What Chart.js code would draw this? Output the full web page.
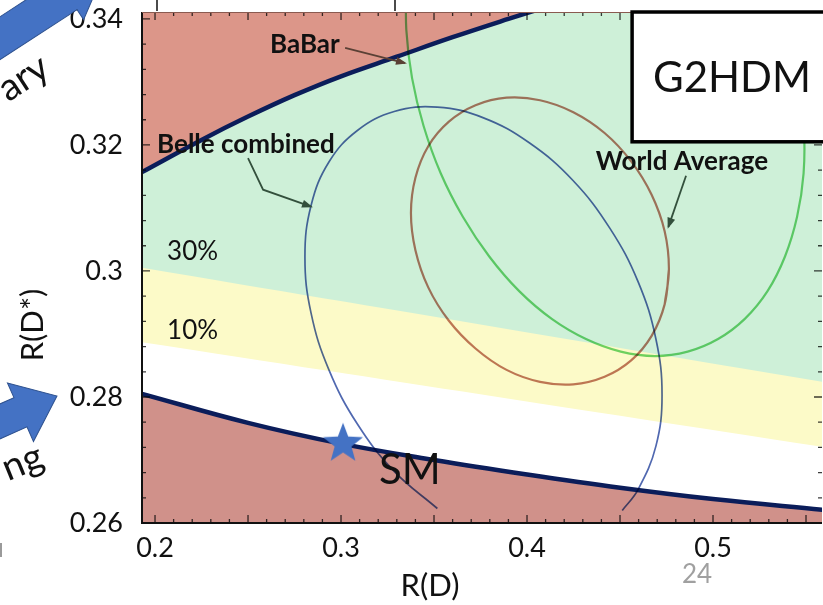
<!DOCTYPE html>
<html>
<head>
<meta charset="utf-8">
<script src="https://cdn.jsdelivr.net/npm/chart.js@4.4.1/dist/chart.umd.min.js"></script>
<style>
  html, body { margin: 0; padding: 0; background: #fff; }
  canvas { display: block; }
</style>
</head>
<body>
<canvas id="chart" width="823" height="605"></canvas>
<script>
// ---- axes ----
const xMin = 0.193, xMax = 0.5586;
const yMin = 0.26, yMax = 0.3411;
const xTickValues = [0.2, 0.3, 0.4, 0.5];
const xTickLabels = ['0.2', '0.3', '0.4', '0.5'];
const yTickValues = [0.26, 0.28, 0.30, 0.32, 0.34];
const yTickLabels = ['0.26', '0.28', '0.3', '0.32', '0.34'];

// ---- G2HDM allowed region boundaries (thick navy curves) ----
const upperBoundX = [0.193, 0.225, 0.25, 0.275, 0.30, 0.33, 0.36, 0.39, 0.42];
const upperBoundY = [0.3157, 0.3208, 0.3245, 0.3279, 0.3309, 0.3340, 0.3371, 0.3400, 0.3428];
const lowerBoundX = [0.193, 0.25, 0.30, 0.35, 0.40, 0.45, 0.50, 0.559];
const lowerBoundY = [0.2805, 0.2759, 0.2726, 0.2700, 0.2677, 0.2656, 0.2638, 0.2621];

// ---- deviation bands (lower edges) ----
const band30X = [0.193, 0.5586];
const band30Y = [0.3005, 0.2824];
const band10X = [0.193, 0.5586];
const band10Y = [0.2887, 0.2721];

// ---- 1 sigma contours ----
const belleX = [0.3518, 0.3286, 0.3088, 0.2935, 0.2839, 0.2806, 0.2839, 0.2935, 0.3088, 0.3286, 0.3518,
  0.3766, 0.4014, 0.4246, 0.4445, 0.4597, 0.4693, 0.4726, 0.4693, 0.4597, 0.4512];
const belleY = [0.2623, 0.2682, 0.2757, 0.2843, 0.2933, 0.3022, 0.3104, 0.3173, 0.3223, 0.3253, 0.3260,
  0.3243, 0.3203, 0.3144, 0.3068, 0.2983, 0.2892, 0.2803, 0.2722, 0.2653, 0.2620];
const worldX = [0.4763, 0.4740, 0.4670, 0.4560, 0.4417, 0.4249, 0.4070, 0.3890, 0.3723, 0.3580, 0.3469,
  0.3400, 0.3376, 0.3400, 0.3469, 0.3580, 0.3723, 0.3890, 0.4070, 0.4249, 0.4417, 0.4560, 0.4670, 0.4740];
const worldY = [0.3003, 0.2947, 0.2897, 0.2858, 0.2832, 0.2820, 0.2824, 0.2843, 0.2877, 0.2921, 0.2974,
  0.3033, 0.3092, 0.3148, 0.3198, 0.3237, 0.3263, 0.3275, 0.3271, 0.3252, 0.3219, 0.3174, 0.3121, 0.3063];
const babarX = [0.3352, 0.3351, 0.3382, 0.3444, 0.3536, 0.3655, 0.3797, 0.3958, 0.4133, 0.4317, 0.4504,
  0.4688, 0.4864, 0.5027, 0.5171, 0.5293, 0.5387, 0.5452, 0.5487, 0.5488, 0.5457, 0.5395];
const babarY = [0.3457, 0.3383, 0.3306, 0.3230, 0.3155, 0.3086, 0.3023, 0.2968, 0.2924, 0.2892, 0.2872,
  0.2865, 0.2872, 0.2892, 0.2924, 0.2968, 0.3023, 0.3086, 0.3155, 0.3230, 0.3306, 0.3383];

// ---- Standard Model prediction ----
const smX = [0.3011];
const smY = [0.2729];

const zip = (xs, ys) => xs.map((v, i) => ({ x: v, y: ys[i] }));
// closed contour: run past the start so the spline joins smoothly
const loop = (xs, ys) => zip(xs.concat(xs.slice(0, 2)), ys.concat(ys.slice(0, 2)));

function starImage(R, color) {
  const size = Math.ceil(2 * R) + 2;
  const c = document.createElement('canvas');
  c.width = c.height = size;
  const g = c.getContext('2d');
  const cx = size / 2, cy = size / 2 + 0.095 * R;
  g.fillStyle = color;
  g.beginPath();
  for (let i = 0; i < 10; i++) {
    const a = -Math.PI / 2 + i * Math.PI / 5;
    const r = i % 2 ? R * 0.42 : R;
    g.lineTo(cx + r * Math.cos(a), cy + r * Math.sin(a));
  }
  g.closePath();
  g.fill();
  return c;
}

// contour lines are multiplied onto the coloured regions, like in the original figure
const multiplyPlugin = {
  id: 'multiplyLines',
  beforeDatasetDraw(chart, args) {
    if (chart.data.datasets[args.index].multiply) {
      chart.ctx.save();
      chart.ctx.globalCompositeOperation = 'multiply';
    }
  },
  afterDatasetDraw(chart, args) {
    if (chart.data.datasets[args.index].multiply) chart.ctx.restore();
  }
};

function leader(ctx, pts, color) {
  ctx.strokeStyle = color;
  ctx.fillStyle = color;
  ctx.lineWidth = 1.8;
  ctx.beginPath();
  pts.forEach((p, i) => (i ? ctx.lineTo(p[0], p[1]) : ctx.moveTo(p[0], p[1])));
  ctx.stroke();
  const [a, b] = pts.slice(-2);
  const ang = Math.atan2(b[1] - a[1], b[0] - a[0]);
  ctx.save();
  ctx.translate(b[0], b[1]);
  ctx.rotate(ang);
  ctx.beginPath();
  ctx.moveTo(2, 0);
  ctx.lineTo(-9, -4);
  ctx.lineTo(-9, 4);
  ctx.closePath();
  ctx.fill();
  ctx.restore();
}

function blockArrow(ctx, tipX, tipY, angDeg, headLen, headHalf, shaftHalf, tail) {
  ctx.save();
  ctx.translate(tipX, tipY);
  ctx.rotate(angDeg * Math.PI / 180);
  ctx.beginPath();
  ctx.moveTo(0, 0);
  ctx.lineTo(-headLen, headHalf);
  ctx.lineTo(-headLen, shaftHalf);
  ctx.lineTo(-tail, shaftHalf);
  ctx.lineTo(-tail, -shaftHalf);
  ctx.lineTo(-headLen, -shaftHalf);
  ctx.lineTo(-headLen, -headHalf);
  ctx.closePath();
  ctx.fillStyle = '#4472c4';
  ctx.fill();
  ctx.strokeStyle = '#2f528f';
  ctx.lineWidth = 1;
  ctx.stroke();
  ctx.restore();
}

const annotationPlugin = {
  id: 'figureAnnotations',
  afterDatasetsDraw(chart) {
    const { ctx, chartArea: area, scales: { x, y } } = chart;
    const P = (vx, vy) => [x.getPixelForValue(vx), y.getPixelForValue(vy)];
    ctx.save();

    // inward tick marks on all four sides
    ctx.globalCompositeOperation = 'multiply';
    ctx.strokeStyle = '#3c3c3c';
    ctx.lineWidth = 1.3;
    ctx.beginPath();
    for (let i = 20; i <= 55; i++) {
      const px = x.getPixelForValue(i / 100);
      const len = i % 5 === 0 ? 8 : 4;
      ctx.moveTo(px, area.bottom); ctx.lineTo(px, area.bottom - len);
      ctx.moveTo(px, area.top); ctx.lineTo(px, area.top + len);
    }
    for (let i = 0; i <= 20; i++) {
      const py = y.getPixelForValue(0.26 + i * 0.004);
      const len = i % 5 === 0 ? 8 : 4;
      ctx.moveTo(area.left, py); ctx.lineTo(area.left + len, py);
      ctx.moveTo(area.right, py); ctx.lineTo(area.right - len, py);
    }
    ctx.stroke();
    ctx.globalCompositeOperation = 'source-over';

    // frame
    ctx.strokeStyle = '#111';
    ctx.lineWidth = 2;
    ctx.beginPath();
    ctx.moveTo(area.left, area.top);
    ctx.lineTo(area.left, area.bottom);
    ctx.lineTo(area.right, area.bottom);
    ctx.stroke();
    ctx.strokeStyle = '#8a5a50';
    ctx.lineWidth = 1;
    ctx.beginPath();
    ctx.moveTo(area.left, area.top + 0.5);
    ctx.lineTo(area.right, area.top + 0.5);
    ctx.stroke();

    // leaders
    leader(ctx, [P(0.3022, 0.3354), P(0.3344, 0.3330)], '#5a4035');
    leader(ctx, [P(0.2500, 0.3179), P(0.2581, 0.3129), P(0.2839, 0.3102)], '#33503c');
    leader(ctx, [P(0.4855, 0.3151), P(0.4760, 0.3070)], '#33503c');

    // labels
    ctx.fillStyle = '#111';
    ctx.textBaseline = 'middle';
    ctx.font = 'bold 26px Lato';
    ctx.textAlign = 'center';
    let p = P(0.2806, 0.3359); ctx.fillText('BaBar', p[0], p[1]);
    ctx.textAlign = 'left';
    p = P(0.2011, 0.3200); ctx.fillText('Belle combined', p[0], p[1]);
    ctx.textAlign = 'center';
    p = P(0.4833, 0.3173); ctx.fillText('World Average', p[0], p[1]);
    ctx.font = '26px Lato';
    ctx.textAlign = 'left';
    p = P(0.2065, 0.3030); ctx.fillText('30%', p[0], p[1]);
    p = P(0.2065, 0.2905); ctx.fillText('10%', p[0], p[1]);
    ctx.font = '42px Lato';
    ctx.textAlign = 'center';
    p = P(0.3370, 0.2683); ctx.fillText('SM', p[0], p[1]);

    // model label box
    const bx = P(0.4565, 0.3205);
    ctx.fillStyle = '#fff';
    ctx.fillRect(bx[0], area.top, area.right + 6 - bx[0], bx[1] - area.top);
    ctx.strokeStyle = '#000';
    ctx.lineWidth = 3.5;
    ctx.strokeRect(bx[0], area.top, area.right + 6 - bx[0], bx[1] - area.top);
    ctx.fillStyle = '#111';
    ctx.font = '42px Lato';
    p = P(0.5102, 0.3306); ctx.fillText('G2HDM', p[0], p[1]);
    ctx.restore();
  },
  afterDraw(chart) {
    const ctx = chart.ctx;
    ctx.save();
    // axis titles
    ctx.fillStyle = '#111';
    ctx.font = '31px Lato';
    ctx.textAlign = 'center';
    ctx.textBaseline = 'middle';
    ctx.fillText('R(D)', 430, 586);
    ctx.save();
    ctx.translate(33, 325);
    ctx.rotate(-Math.PI / 2);
    ctx.fillText('R(D*)', 0, 0);
    ctx.restore();

    // page number
    ctx.fillStyle = '#a0a0a0';
    ctx.font = '26px Lato';
    ctx.fillText('24', 697, 575);

    // slide decorations cut by the crop
    blockArrow(ctx, 105, -30, -33, 45, 30, 18, 200);
    blockArrow(ctx, 57, 396, -24, 40, 32, 16, 120);
    ctx.fillStyle = '#111';
    ctx.font = '38px Lato';
    ctx.textAlign = 'right';
    ctx.textBaseline = 'alphabetic';
    ctx.save();
    ctx.translate(52, 74);
    ctx.rotate(-33 * Math.PI / 180);
    ctx.fillText('ary', 0, 0);
    ctx.restore();
    ctx.save();
    ctx.translate(46, 466);
    ctx.rotate(-22 * Math.PI / 180);
    ctx.fillText('ng', 0, 0);
    ctx.restore();
    ctx.strokeStyle = '#111';
    ctx.lineWidth = 1.5;
    ctx.beginPath();
    ctx.moveTo(157, 0); ctx.lineTo(157, 11);
    ctx.moveTo(395, 0); ctx.lineTo(395, 11);
    ctx.stroke();
    ctx.fillStyle = '#9a9a9a';
    ctx.fillRect(0, 543, 2, 14);
    ctx.restore();
  }
};

const line = { pointRadius: 0, tension: 0.4, fill: false };

new Chart(document.getElementById('chart'), {
  type: 'line',
  data: {
    datasets: [
      { label: 'SM', data: zip(smX, smY), showLine: false, pointStyle: starImage(21, '#4472c4'), pointRadius: 22, order: 0 },
      { ...line, label: 'BaBar', data: zip(babarX, babarY), borderColor: '#6fd476', borderWidth: 2.2, multiply: true, order: 1 },
      { ...line, label: 'World Average', data: loop(worldX, worldY), borderColor: '#c07868', borderWidth: 2.2, multiply: true, order: 2 },
      { ...line, label: 'Belle combined', data: zip(belleX, belleY), borderColor: '#5068b0', borderWidth: 1.7, multiply: true, order: 3 },
      { ...line, label: 'lower bound', data: zip(lowerBoundX, lowerBoundY), borderColor: '#0b1d5a', borderWidth: 4.5, backgroundColor: '#d0918a', fill: 'start', order: 5 },
      { ...line, label: 'upper bound', data: zip(upperBoundX, upperBoundY), borderColor: '#0b1d5a', borderWidth: 4.5, backgroundColor: '#dc9689', fill: 'end', order: 6 },
      { ...line, label: '30%', data: zip(band30X, band30Y), borderColor: 'rgba(0,0,0,0)', backgroundColor: '#cef0d8', fill: 'end', order: 7 },
      { ...line, label: '10%', data: zip(band10X, band10Y), borderColor: 'rgba(0,0,0,0)', backgroundColor: '#fcfac8', fill: 'end', order: 8 }
    ]
  },
  options: {
    responsive: false,
    animation: false,
    events: [],
    layout: { autoPadding: false, padding: { top: 12, right: 1, left: 0, bottom: 0 } },
    plugins: { legend: { display: false }, tooltip: { enabled: false } },
    scales: {
      x: {
        type: 'linear', min: xMin, max: xMax,
        grid: { display: false, drawTicks: false, tickLength: 0 },
        border: { display: false },
        afterBuildTicks: (s) => { s.ticks = xTickValues.map((v) => ({ value: v })); },
        afterFit: (s) => { s.height = 82; s.paddingLeft = 0; s.paddingRight = 0; },
        ticks: {
          padding: 9, color: '#111', maxRotation: 0, autoSkip: false,
          font: { family: 'Lato', size: 27 },
          callback: (v, i) => xTickLabels[i]
        }
      },
      y: {
        type: 'linear', min: yMin, max: yMax,
        grid: { display: false, drawTicks: false, tickLength: 0 },
        border: { display: false },
        afterBuildTicks: (s) => { s.ticks = yTickValues.map((v) => ({ value: v })); },
        afterFit: (s) => { s.width = 142; s.paddingTop = 0; s.paddingBottom = 0; },
        ticks: {
          padding: 19, color: '#111', autoSkip: false,
          font: { family: 'Lato', size: 27 },
          callback: (v, i) => yTickLabels[i]
        }
      }
    }
  },
  plugins: [multiplyPlugin, annotationPlugin]
});
</script>
</body>
</html>
